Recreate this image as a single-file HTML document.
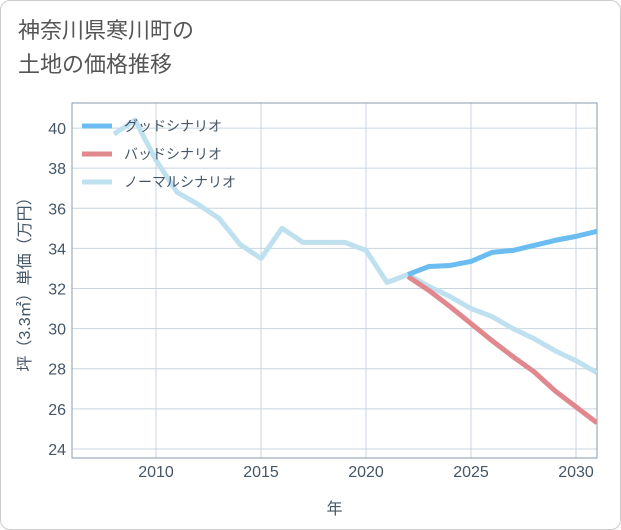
<!DOCTYPE html>
<html><head><meta charset="utf-8">
<style>
body{margin:0;background:#fff;}
#card{position:absolute;left:0;top:0;width:619px;height:528px;border:1px solid #ccc;border-radius:10px;background:#fff;}
#title{position:absolute;left:18px;top:14px;font:22px "Liberation Sans","Noto Sans CJK JP",sans-serif;color:#555;line-height:34px;}
svg text{font-family:"Liberation Sans","Noto Sans CJK JP",sans-serif;}
</style></head><body>
<div id="card"></div>
<div id="title">神奈川県寒川町の<br>土地の価格推移</div>
<svg id="chart" width="621" height="530" style="position:absolute;left:0;top:0"></svg>
<script>
const normalYears=[2008,2009,2010,2011,2012,2013,2014,2015,2016,2017,2018,2019,2020,2021,2022,2023,2024,2025,2026,2027,2028,2029,2030,2031];
const normalValues=[39.7,40.4,38.4,36.8,36.2,35.5,34.2,33.5,35.0,34.3,34.3,34.3,33.9,32.3,32.7,32.1,31.6,31.0,30.6,30.0,29.5,28.9,28.4,27.8];
const futureYears=[2022,2023,2024,2025,2026,2027,2028,2029,2030,2031];
const goodValues=[32.7,33.1,33.15,33.35,33.8,33.9,34.15,34.4,34.6,34.85];
const badValues=[32.6,31.9,31.1,30.25,29.4,28.6,27.85,26.9,26.1,25.3];
const xTicks=[2010,2015,2020,2025,2030];
const yTicks=[24,26,28,30,32,34,36,38,40];
const legendLabels=["グッドシナリオ","バッドシナリオ","ノーマルシナリオ"];
const L=72,R=597,T=103,B=458;
const x=v=>L+(v-2006)/(2031-2006)*(R-L);
const y=v=>B-(v-23.55)/(41.25-23.55)*(B-T);
const svg=document.getElementById('chart');
const NS='http://www.w3.org/2000/svg';
function mk(t,a){const e=document.createElementNS(NS,t);for(const k in a)e.setAttribute(k,a[k]);svg.appendChild(e);return e;}
xTicks.forEach(t=>{
 let g=mk('line',{x1:x(t),x2:x(t),y1:T,y2:B,stroke:'#c8d4e0'});
 
 
 let s=mk('text',{x:x(t),y:477,'text-anchor':'middle','font-size':16,fill:'#445566'});s.textContent=t;
 
 
});
yTicks.forEach(t=>{
 let g=mk('line',{x1:L,x2:R,y1:y(t),y2:y(t),stroke:'#c8d4e0'});
 
 
 let s=mk('text',{x:66,y:y(t)+6,'text-anchor':'end','font-size':16,fill:'#445566'});s.textContent=t;
 
 
});
let e=mk('rect',{x:L,y:T,width:R-L,height:B-T,fill:'none',stroke:'#8a9aab','stroke-width':1});


let xt=mk('text',{x:(L+R)/2,y:514,'text-anchor':'middle','font-size':16,fill:'#445566'});xt.textContent='年';


let yt=mk('text',{x:0,y:0,'text-anchor':'middle','font-size':16,fill:'#445566',transform:`translate(30,${(T+B)/2}) rotate(-90)`});yt.textContent='坪（3.3㎡）単価（万円）';


const clip=mk('clipPath',{id:'cp'});const cr=document.createElementNS(NS,'rect');cr.setAttribute('x',L);cr.setAttribute('y',T);cr.setAttribute('width',R-L);cr.setAttribute('height',B-T);clip.appendChild(cr);
function line(xs,vs,color,name){
 let p=mk('polyline',{points:xs.map((t,i)=>x(t)+','+y(vs[i])).join(' '),fill:'none',stroke:color,'stroke-width':5,'stroke-linejoin':'round','clip-path':'url(#cp)'});
 
 
}
const colors=['#6bbcf0','#e0888e','#bfe0ee'];
line(normalYears,normalValues,colors[2],'normal-line');
line(futureYears,badValues,colors[1],'bad-line');
line(futureYears,goodValues,colors[0],'good-line');
legendLabels.forEach((lab,i)=>{
 const ly=126+i*28;
 let l=mk('line',{x1:82,x2:112,y1:ly,y2:ly,stroke:colors[i],'stroke-width':5});
 
 
 let s=mk('text',{x:124,y:ly+5,'font-size':14,fill:'#445566'});s.textContent=lab;
 
 
});
</script>
</body></html>
